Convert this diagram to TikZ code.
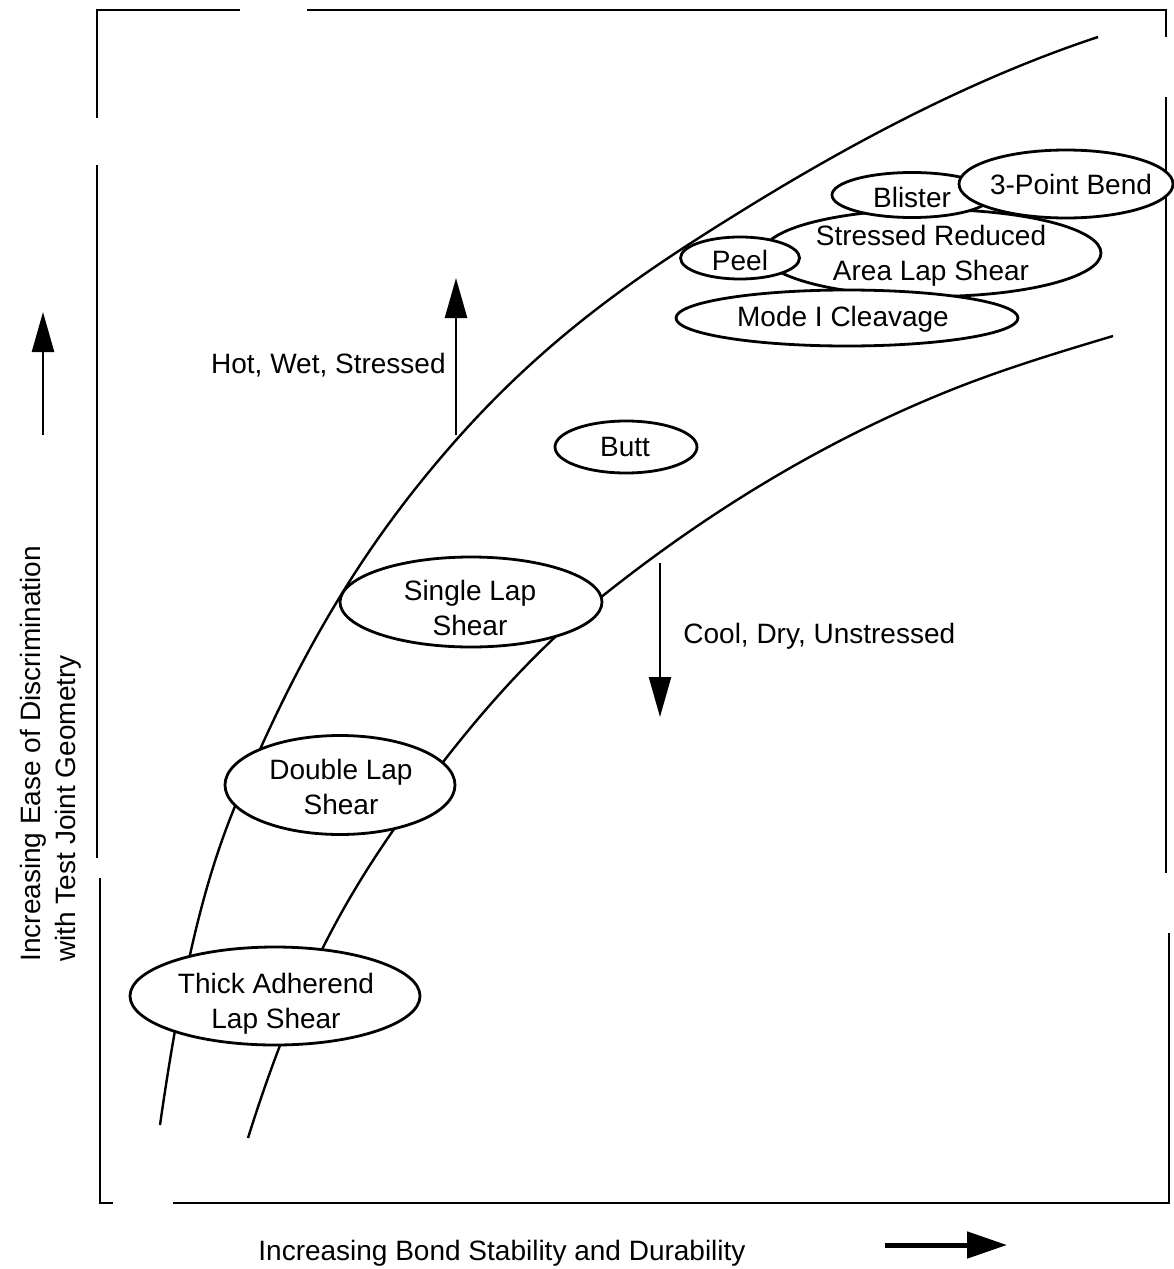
\documentclass[tikz,border=0pt]{standalone}
\usepackage{fontspec}
\setmainfont{Liberation Sans}
\usetikzlibrary{arrows.meta,shapes.geometric}
\begin{document}
\begin{tikzpicture}[x=0.5pt,y=-0.5pt,
  ell/.style={draw, ellipse, fill=white, line width=1.4pt, inner sep=0pt},
  txt/.style={font=\fontsize{14}{17.5}\selectfont, align=center, inner sep=0pt},
  band/.style={line width=1.2pt},
  frm/.style={line width=1pt},
  arr/.style={line width=1.2pt, -{Triangle[length=20pt,width=11pt]}},
  bigarr/.style={line width=2.5pt, -{Triangle[length=20pt,width=13pt]}}]
\useasboundingbox (0,0) rectangle (1173,1269);

% frame (with the gaps of the scan)
\draw[frm] (97,118) -- (97,10) -- (240,10);
\draw[frm] (307,10) -- (1166,10) -- (1166,37);
\draw[frm] (1166,97) -- (1166,873);
\draw[frm] (1169,933) -- (1169,1203) -- (173,1203);
\draw[frm] (113,1203) -- (100,1203) -- (100,878);
\draw[frm] (97,858) -- (97,165);

% band boundaries
\draw[band] (160,1125) .. controls (194,887) and (228,820) .. (262,745)
  .. controls (324.7,607) and (387.3,519.1) .. (450,447)
  .. controls (546.7,335.8) and (643.3,272) .. (740,212)
  .. controls (859.3,138) and (978.7,76.4) .. (1098,37);
\draw[band] (248,1138) .. controls (296,984.4) and (344,901.6) .. (392,832)
  .. controls (461.3,731.5) and (530.7,653.4) .. (600,598)
  .. controls (717,504.4) and (834,436.8) .. (951,390)
  .. controls (1005,368.4) and (1059,352.2) .. (1113,336);

% arrows
\coordinate (hotA) at (456,435);
\coordinate (hotB) at (456,278);
\draw[arr] (hotA) -- (hotB);
\coordinate (coolA) at (660,563);
\coordinate (coolB) at (660,717);
\draw[arr] (coolA) -- (coolB);
\coordinate (leftA) at (43,435);
\coordinate (leftB) at (43,312);
\draw[arr] (leftA) -- (leftB);
\coordinate (botA) at (885,1245);
\coordinate (botB) at (1007,1245);
\draw[bigarr] (botA) -- (botB);

% labels
\node[txt, anchor=base east] (hot) at (446,373) {Hot, Wet, Stressed};
\node[txt, anchor=base west] (cool) at (683,643) {Cool, Dry, Unstressed};
\node[txt, anchor=base west] (xlab) at (258,1260) {Increasing Bond Stability and Durability};
\node[txt, align=left, rotate=90, anchor=north west] (ylab) at (20,962) {Increasing Ease of Discrimination\\with Test Joint Geometry};

% test geometries
\node[ell, minimum width=145pt, minimum height=49pt] (thick) at (275,996) {};
\node[txt] (thickT) at (276,1004) {Thick Adherend\\Lap Shear};
\node[ell, minimum width=115pt, minimum height=49.5pt] (double) at (340,785) {};
\node[txt] (doubleT) at (341,787) {Double Lap\\Shear};
\node[ell, minimum width=131pt, minimum height=45pt] (single) at (471,602) {};
\node[txt] (singleT) at (470,608) {Single Lap\\Shear};
\node[ell, minimum width=71pt, minimum height=26pt] (butt) at (626,447) {};
\node[txt] (buttT) at (625,447) {Butt};
\node[ell, minimum width=169pt, minimum height=43.5pt] (stress) at (932,253) {};
\node[txt] (stressT) at (931,256) {Stressed Reduced\\Area Lap Shear};
\node[ell, minimum width=80pt, minimum height=22.5pt] (blister) at (912,195) {};
\node[txt] (blisterT) at (912,197) {Blister};
\node[ell, minimum width=107pt, minimum height=34pt] (bend) at (1066,184) {};
\node[txt] (bendT) at (1071,184) {3-Point Bend};
\node[ell, minimum width=59.5pt, minimum height=21pt] (peel) at (740,258) {};
\node[txt] (peelT) at (740,260) {Peel};
\node[ell, minimum width=171pt, minimum height=28pt] (mode) at (847,318) {};
\node[txt] (modeT) at (843,319) {Mode I Cleavage};
\end{tikzpicture}
\end{document}
